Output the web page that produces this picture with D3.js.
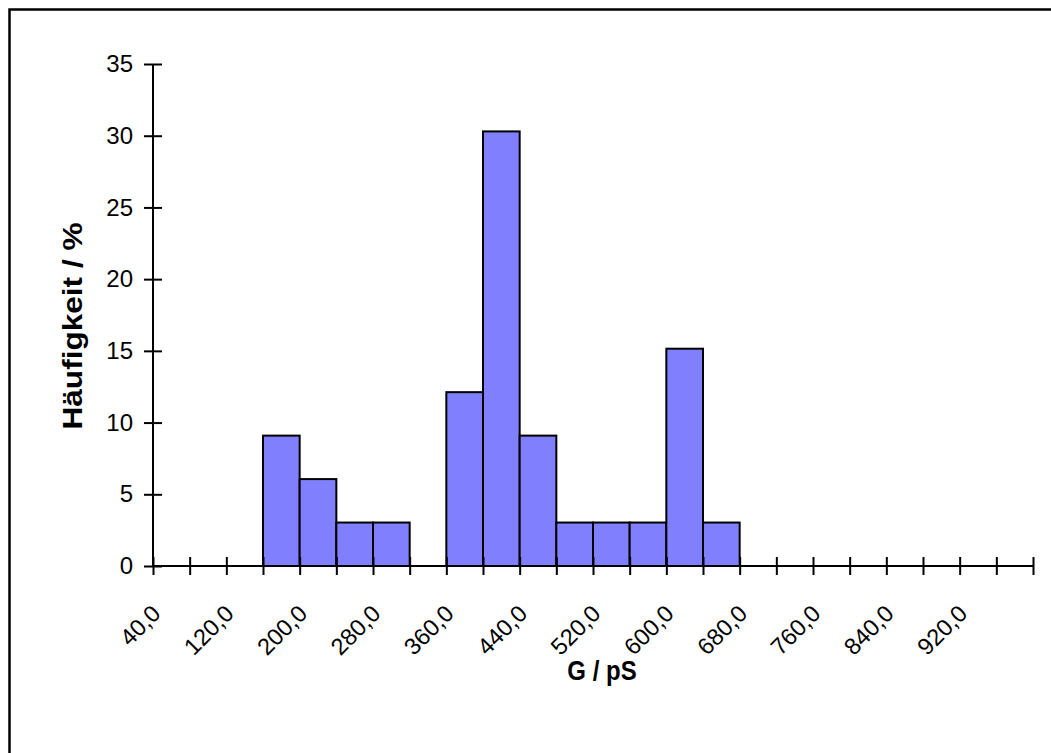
<!DOCTYPE html>
<html>
<head>
<meta charset="utf-8">
<script src="https://cdn.jsdelivr.net/npm/d3@7"></script>
<style>
  html, body { margin: 0; padding: 0; background: #fff; }
  svg { display: block; }
  text { font-family: Arial, "Liberation Sans", sans-serif; fill: #000; }
</style>
</head>
<body>
<svg id="chart" width="1051" height="753"></svg>
<script>
// Conductance histogram: class lower edges (pS) and relative frequency (%)
const binStarts = [40, 80, 120, 160, 200, 240, 280, 320, 360, 400, 440, 480,
                   520, 560, 600, 640, 680, 720, 760, 800, 840, 880, 920, 960];
const binWidth = 40;
const frequencies = [0, 0, 0, 9.09, 6.06, 3.03, 3.03, 0, 12.12, 30.30, 9.09, 3.03,
                     3.03, 3.03, 15.15, 3.03, 0, 0, 0, 0, 0, 0, 0, 0];

// Axis labelling
const xLabelValues = [40, 120, 200, 280, 360, 440, 520, 600, 680, 760, 840, 920];
const xLabelTexts = ["40,0", "120,0", "200,0", "280,0", "360,0", "440,0",
                     "520,0", "600,0", "680,0", "760,0", "840,0", "920,0"];
const yTicks = [0, 5, 10, 15, 20, 25, 30, 35];
const xTitle = "G / pS";
const yTitle = "Häufigkeit / %";

const svg = d3.select("#chart");

// Outer chart frame
svg.append("rect")
  .attr("x", 9.5).attr("y", 9.5)
  .attr("width", 1100).attr("height", 800)
  .attr("fill", "none").attr("stroke", "#000").attr("stroke-width", 2.5);

const x = d3.scaleLinear()
  .domain([binStarts[0], binStarts[binStarts.length - 1] + binWidth])
  .range([153, 1033]);
const y = d3.scaleLinear().domain([0, 35]).range([566, 64]);

// Bars
svg.append("g").selectAll("rect")
  .data(binStarts.map((s, i) => ({ x0: s, x1: s + binWidth, v: frequencies[i] }))
                 .filter(d => d.v > 0))
  .join("rect")
  .attr("x", d => x(d.x0))
  .attr("width", d => x(d.x1) - x(d.x0))
  .attr("y", d => y(d.v))
  .attr("height", d => y(0) - y(d.v))
  .attr("fill", "#8080ff")
  .attr("stroke", "#000")
  .attr("stroke-width", 2);

// X axis: ticks at every class boundary, crossing the axis line
const xTickVals = binStarts.concat([binStarts[binStarts.length - 1] + binWidth]);
const xAxis = svg.append("g")
  .attr("transform", `translate(0,${y(0)})`)
  .call(d3.axisBottom(x).tickValues(xTickVals).tickSize(9).tickFormat(""));
xAxis.select(".domain").attr("stroke-width", 2).attr("d", `M${x.range()[0]},0H${x.range()[1]}`);
xAxis.selectAll(".tick line").attr("y1", -9).attr("stroke-width", 2);

svg.append("g").selectAll("text")
  .data(xLabelValues)
  .join("text")
  .attr("transform", d => `translate(${x(d) + 9},${615}) rotate(-45)`)
  .attr("text-anchor", "end")
  .attr("font-size", 23.5)
  .text((d, i) => xLabelTexts[i]);

// Y axis
const yAxis = svg.append("g")
  .attr("transform", `translate(${x.range()[0]},0)`)
  .call(d3.axisLeft(y).tickValues(yTicks).tickSize(9).tickPadding(12)
        .tickFormat(d => String(d)));
yAxis.select(".domain").attr("stroke-width", 2).attr("d", `M0,${y.range()[0]}V${y.range()[1]}`);
yAxis.selectAll(".tick line").attr("x2", 9).attr("x1", -9).attr("stroke-width", 2);
yAxis.selectAll(".tick text")
  .attr("font-size", 24)
  .attr("font-family", "Arial, 'Liberation Sans', sans-serif")
  .attr("x", -20);

// Axis titles
svg.append("text")
  .attr("transform", "translate(602,680) scale(1,1.15)")
  .attr("text-anchor", "middle")
  .attr("font-size", 24).attr("font-weight", "bold")
  .text(xTitle);

svg.append("text")
  .attr("transform", "translate(82,326) rotate(-90)")
  .attr("text-anchor", "middle")
  .attr("font-size", 27).attr("font-weight", "bold")
  .attr("textLength", 207).attr("lengthAdjust", "spacingAndGlyphs")
  .text(yTitle);
</script>
</body>
</html>
